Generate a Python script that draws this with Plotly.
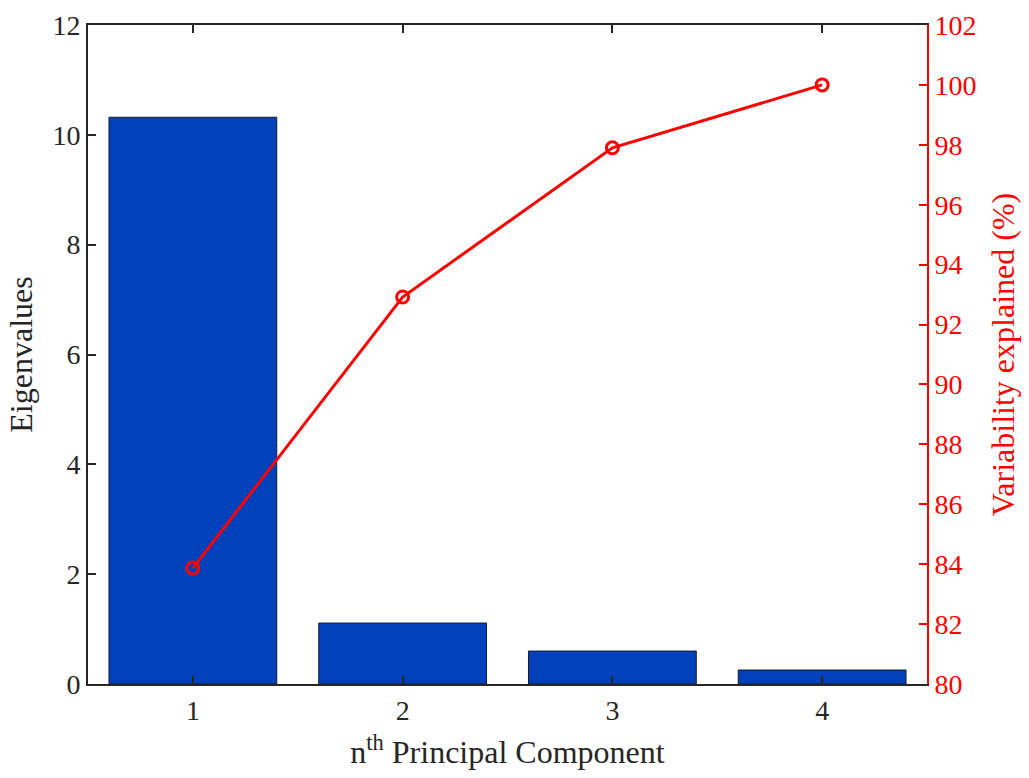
import plotly.graph_objects as go

components = [1, 2, 3, 4]
eigenvalues = [10.32, 1.11, 0.60, 0.255]
variability = [83.87, 92.92, 97.9, 100.0]

FONT = "Liberation Serif"
TICK = 28
TITLE = 32

fig = go.Figure()
fig.add_trace(go.Bar(
    x=components, y=eigenvalues, width=0.8,
    marker=dict(color="#0040BA", line=dict(color="#1a1a2a", width=1)),
    yaxis="y", showlegend=False,
))
fig.add_trace(go.Scatter(
    x=components, y=variability, mode="lines+markers",
    line=dict(color="#FF0000", width=3),
    marker=dict(symbol="circle-open", size=12, color="#FF0000", line=dict(width=3, color="#FF0000")),
    yaxis="y2", showlegend=False,
))

fig.update_layout(
    width=1029, height=778,
    margin=dict(l=88, r=102, t=25, b=94),
    paper_bgcolor="white", plot_bgcolor="white",
    font=dict(family=FONT, size=TICK, color="#262626"),
    xaxis=dict(
        range=[0.5, 4.5], tickvals=components, ticktext=[str(c) for c in components],
        ticks="inside", ticklen=8, tickwidth=2, tickcolor="#262626",
        showline=True, linecolor="#262626", linewidth=2, mirror="ticks",
        showgrid=False, zeroline=False, automargin=False,
        title=dict(text="n<sup>th</sup> Principal Component", font=dict(family=FONT, size=TITLE, color="#262626"), standoff=16),
        tickfont=dict(family=FONT, size=TICK, color="#262626"),
    ),
    yaxis=dict(
        range=[0, 12], tickvals=[0, 2, 4, 6, 8, 10, 12],
        ticks="inside", ticklen=8, tickwidth=2, tickcolor="#262626",
        showline=True, linecolor="#262626", linewidth=2,
        showgrid=False, zeroline=False, automargin=False,
        title=dict(text="Eigenvalues", font=dict(family=FONT, size=TITLE, color="#262626"), standoff=10),
        tickfont=dict(family=FONT, size=TICK, color="#262626"),
    ),
    yaxis2=dict(
        range=[80, 102], tickvals=list(range(80, 103, 2)),
        overlaying="y", side="right",
        ticks="inside", ticklen=8, tickwidth=2, tickcolor="#FF0000",
        showline=True, linecolor="#FF0000", linewidth=2,
        showgrid=False, zeroline=False, automargin=False,
        title=dict(text="Variability explained (%)", font=dict(family=FONT, size=TITLE, color="#FF0000"), standoff=16),
        tickfont=dict(family=FONT, size=TICK, color="#FF0000"),
    ),
)

fig.write_html("out.html")
